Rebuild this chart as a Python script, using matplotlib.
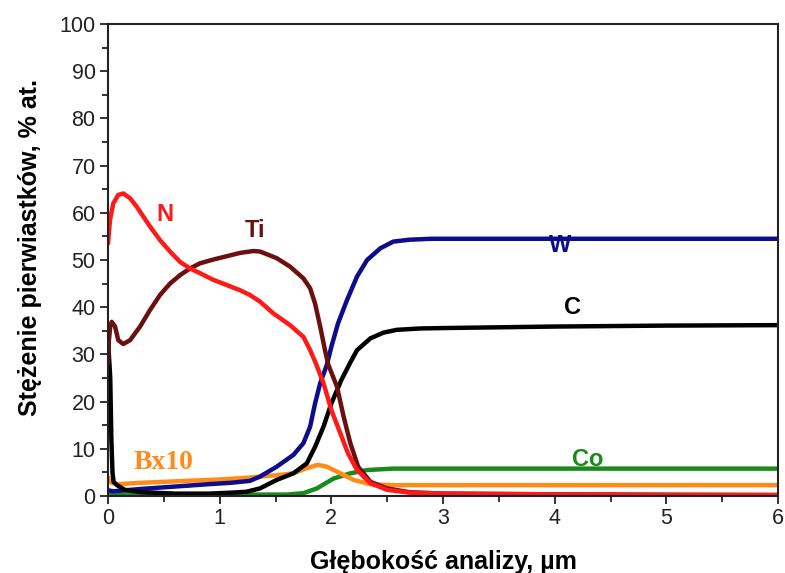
import matplotlib
matplotlib.use('Agg')
import matplotlib.pyplot as plt
from matplotlib.ticker import MultipleLocator

plt.rcParams['font.family'] = ['Liberation Sans', 'DejaVu Sans']

# Depth profiles (x in um, y in at.%)
n_x = [0, 0.018, 0.047, 0.092, 0.137, 0.197, 0.257, 0.316, 0.376, 0.466, 0.555, 0.645, 0.734,
       0.824, 0.943, 1.063, 1.182, 1.27, 1.36, 1.48, 1.63, 1.75, 1.81, 1.854, 1.93, 2.0, 2.08,
       2.15, 2.23, 2.35, 2.5, 2.7, 3.06, 4, 5, 6]
n_y = [53.5, 58.5, 62, 63.8, 64.1, 63.1, 61.3, 59.2, 57.1, 54.2, 51.8, 49.6, 48.2,
       47.2, 45.8, 44.7, 43.6, 42.6, 41.2, 38.7, 36.2, 33.7, 30.9, 28.5, 23.9, 18.2, 13.3,
       9, 5.5, 2.7, 1.3, 0.7, 0.5, 0.35, 0.25, 0.2]

ti_x = [0, 0.008, 0.02, 0.033, 0.063, 0.092, 0.137, 0.197, 0.287, 0.376, 0.466, 0.555, 0.645,
        0.734, 0.824, 0.943, 1.063, 1.182, 1.30, 1.36, 1.51, 1.63, 1.75, 1.81, 1.854, 1.9,
        1.943, 1.973, 2.05, 2.11, 2.17, 2.24, 2.35, 2.5, 2.7, 3, 4, 5, 6]
ti_y = [28, 33, 36, 36.9, 35.9, 33, 32.2, 33, 35.9, 39.4, 42.6, 45, 46.8,
        48.2, 49.3, 50.1, 50.8, 51.5, 51.9, 51.8, 50.4, 48.6, 46.1, 44, 40.8, 35.9,
        30.9, 27.8, 23.2, 16.8, 11.2, 6.2, 3, 1.6, 0.8, 0.5, 0.35, 0.25, 0.2]

w_x = [0, 0.05, 0.3, 0.6, 0.9, 1.1, 1.27, 1.36, 1.51, 1.66, 1.75, 1.81, 1.854, 1.9, 1.96,
       2.0, 2.06, 2.14, 2.23, 2.32, 2.44, 2.555, 2.7, 2.9, 3.5, 4, 5, 6]
w_y = [1.2, 1, 1.5, 2, 2.5, 2.8, 3.2, 4.1, 6.2, 8.7, 11.2, 14.7, 19.6, 23.9, 27.8,
       31.6, 36.6, 41.5, 46.5, 50, 52.5, 53.9, 54.3, 54.5, 54.5, 54.5, 54.5, 54.5]

c_x = [0, 0.02, 0.03, 0.04, 0.05, 0.08, 0.15, 0.3, 0.6, 0.9, 1.1, 1.24, 1.36, 1.51, 1.66,
       1.78, 1.854, 1.93, 2.0, 2.09, 2.17, 2.23, 2.35, 2.465, 2.585, 2.8, 3.06, 4, 5, 6]
c_y = [33, 25, 12, 5, 3, 2.3, 1.3, 0.8, 0.5, 0.5, 0.7, 0.9, 1.6, 3.4, 4.8,
       6.9, 10.4, 14.7, 19.6, 24.6, 28.3, 30.9, 33.4, 34.6, 35.2, 35.5, 35.6, 35.9, 36.1, 36.2]

co_x = [0, 1.6, 1.75, 1.87, 2.02, 2.17, 2.32, 2.555, 3, 4, 5, 6]
co_y = [0.3, 0.3, 0.6, 1.6, 3.7, 4.8, 5.5, 5.8, 5.8, 5.8, 5.8, 5.8]

b_x = [0, 0.03, 0.08, 0.3, 0.7, 1.0, 1.27, 1.36, 1.51, 1.66, 1.78, 1.88, 1.96, 2.08, 2.2,
       2.35, 2.55, 3, 4, 6]
b_y = [4, 2.8, 2.5, 2.8, 3.2, 3.5, 3.9, 4.1, 4.4, 4.8, 5.9, 6.6, 6.2, 4.8, 3.4,
       2.5, 2.3, 2.3, 2.3, 2.3]

fig = plt.figure(figsize=(7.85, 5.73), dpi=100)
ax = fig.add_axes([0.1376, 0.1344, 0.8535, 0.8237])

kw = dict(lw=3.2, solid_joinstyle='round', solid_capstyle='round')
ax.plot(co_x, co_y, color='#1a8a1a', **kw)
ax.plot(b_x, b_y, color='#ff8c1a', **kw)
ax.plot(w_x, w_y, color='#0d0d8c', **kw)
ax.plot(c_x, c_y, color='black', **kw)
ax.plot(ti_x, ti_y, color='#6b0f0f', **kw)
ax.plot(n_x, n_y, color='#ff1a1a', **kw)

# Curve labels
lab = dict(fontsize=17, fontweight='bold', ha='center', va='center')
ax.text(0.51, 59.6, 'N', color='#ff1a1a', **lab)
ax.text(1.32, 56.2, 'Ti', color='#6b0f0f', **lab)
ax.text(4.05, 53.0, 'W', color='#0d0d8c', **lab)
ax.text(4.16, 40.0, 'C', color='black', **lab)
ax.text(4.3, 7.8, 'Co', color='#1a8a1a', **lab)
ax.text(0.5, 7.2, 'Bx10', color='#ff8c1a', family='Liberation Serif', fontsize=20,
        fontweight='bold', ha='center', va='center')

ax.set_xlim(0, 6)
ax.set_ylim(0, 100)
ax.xaxis.set_major_locator(MultipleLocator(1))
ax.xaxis.set_minor_locator(MultipleLocator(0.5))
ax.yaxis.set_major_locator(MultipleLocator(10))
ax.yaxis.set_minor_locator(MultipleLocator(5))
ax.tick_params(which='both', direction='out', width=1.3, labelsize=15.5, colors='#222222', pad=3)
ax.tick_params(which='major', length=6)
ax.tick_params(which='minor', length=4)
for s in ax.spines.values():
    s.set_linewidth(1.5)
    s.set_color('#222222')

ax.set_xlabel('Głębokość analizy, µm', fontsize=18, fontweight='bold', labelpad=15)
ax.set_ylabel('Stężenie pierwiastków, % at.', fontsize=18, fontweight='bold')
ax.yaxis.set_label_coords(-0.098, 0.527)

fig.savefig('out.png', dpi=100)
